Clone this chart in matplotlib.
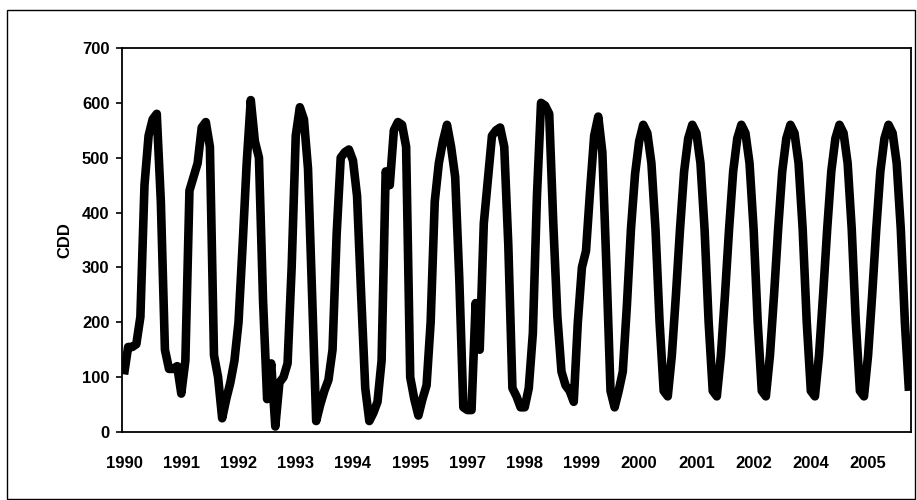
import numpy as np
import matplotlib
matplotlib.use('Agg')
from matplotlib import pyplot as plt
from matplotlib.patches import Rectangle

# monthly CDD, Jan..Dec
cdd_1990 = [105, 155, 155, 160, 210, 450, 540, 570, 580, 420, 150, 115]
cdd_1991 = [115, 120, 70, 130, 440, 465, 490, 555, 565, 520, 140, 100]
cdd_1992 = [25, 60, 90, 130, 200, 340, 490, 605, 530, 500, 240, 60]
cdd_1993 = [125, 10, 90, 100, 125, 300, 540, 592, 570, 480, 250, 20]
cdd_1994 = [50, 75, 95, 150, 360, 500, 510, 515, 495, 430, 250, 80]
cdd_1995 = [20, 35, 55, 130, 475, 450, 550, 565, 560, 520, 100, 60]
cdd_1996 = [30, 60, 85, 200, 420, 490, 530, 560, 520, 465, 280, 45]
cdd_1997 = [40, 40, 235, 150, 380, 460, 540, 550, 555, 520, 340, 80]
cdd_1998 = [65, 45, 45, 80, 180, 430, 600, 595, 580, 380, 210, 110]
cdd_1999 = [85, 75, 55, 200, 300, 330, 440, 540, 575, 510, 300, 75]
cdd_2000 = [45, 75, 110, 230, 370, 470, 530, 560, 545, 490, 370, 200]
cdd_2001 = [75, 65, 140, 250, 370, 475, 535, 560, 545, 490, 370, 200]
cdd_2002 = [75, 65, 140, 250, 370, 475, 535, 560, 545, 490, 370, 200]
cdd_2003 = [75, 65, 140, 250, 370, 475, 535, 560, 545, 490, 370, 200]
cdd_2004 = [75, 65, 140, 250, 370, 475, 535, 560, 545, 490, 370, 200]
cdd_2005 = [75, 65, 140, 250, 370, 475, 535, 560, 545, 490, 370, 200]
cdd_2006 = [75]

years = [cdd_1990, cdd_1991, cdd_1992, cdd_1993, cdd_1994, cdd_1995, cdd_1996,
         cdd_1997, cdd_1998, cdd_1999, cdd_2000, cdd_2001, cdd_2002, cdd_2003,
         cdd_2004, cdd_2005, cdd_2006]
cdd = np.concatenate(years)

# category labels, every 14th month shown (like excel did)
label_every = 14
tick_labels = ['1990', '1991', '1992', '1993', '1994', '1995', '1997',
               '1998', '1999', '2000', '2001', '2002', '2004', '2005']

W, H = 917, 500
fig = plt.figure(figsize=(W / 100, H / 100), dpi=100)
ax = fig.add_axes([122 / W, 1 - 432 / H, (911 - 122) / W, (432 - 48) / H])

x = np.arange(len(cdd))
ax.plot(x, cdd, color='black', linewidth=6.2, solid_joinstyle='round',
        solid_capstyle='butt')

ax.set_xlim(-0.5, len(cdd) - 0.5)
ax.set_ylim(0, 700)
ax.set_yticks(range(0, 701, 100))
ax.set_xticks(np.arange(len(tick_labels)) * label_every)
ax.set_xticklabels(tick_labels)

for lab in ax.get_xticklabels() + ax.get_yticklabels():
    lab.set_fontfamily('Liberation Sans')
    lab.set_fontweight('bold')
    lab.set_fontsize(12)

ax.tick_params(axis='x', length=0, pad=17)
ax.tick_params(axis='y', direction='out', length=4, width=1.2, pad=5)
for s in ax.spines.values():
    s.set_linewidth(1.3)

ax.set_ylabel('CDD', fontfamily='Liberation Sans', fontweight='bold',
              fontsize=12, labelpad=7)

# chart-area border
fig.patches.append(Rectangle((7 / W, 1 / H), (915 - 7) / W, (489) / H,
                             transform=fig.transFigure, fill=False,
                             edgecolor='black', linewidth=1))

fig.savefig('out.png', dpi=100)
